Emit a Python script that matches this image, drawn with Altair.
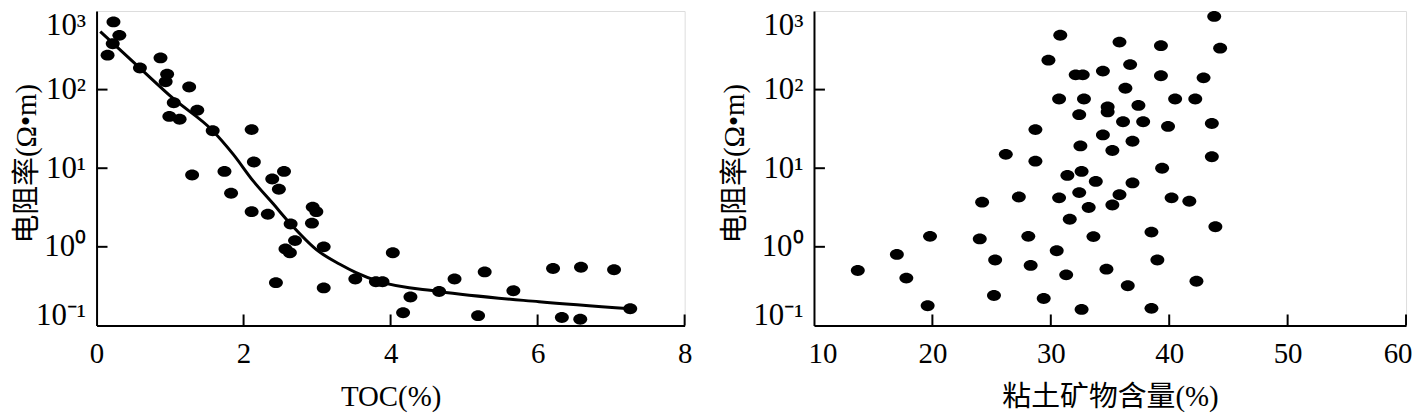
import altair as alt
import pandas as pd

# ---------------- data ----------------
toc = [0.23, 0.31, 0.22, 0.15, 0.59, 0.87, 0.96, 0.94, 1.26, 1.05,
       0.99, 1.13, 1.37, 1.58, 2.11, 2.14, 1.30, 1.74, 1.83, 2.39,
       2.48, 2.55, 2.11, 2.33, 2.64, 2.94, 2.99, 2.93, 2.70, 2.57,
       2.63, 3.09, 2.44, 3.09, 3.52, 3.80, 3.89, 4.03, 4.27, 4.17,
       4.66, 4.87, 5.28, 5.19, 5.67, 6.21, 6.59, 7.04, 6.33, 6.58, 7.26]
res_toc = [726, 490, 383, 274, 188, 253, 157, 126, 108, 68,
           45.6, 42, 54.6, 30, 31, 12, 8.2, 9.1, 4.8, 7.3,
           5.4, 9.1, 2.8, 2.6, 1.95, 3.2, 2.8, 2.0, 1.2, 0.94,
           0.84, 1.0, 0.35, 0.30, 0.39, 0.36, 0.36, 0.84, 0.23, 0.145,
           0.27, 0.39, 0.48, 0.133, 0.276, 0.53, 0.55, 0.51, 0.126, 0.12, 0.163]

curve_toc = [0.05, 0.59, 1.05, 1.58, 1.86, 2.13, 2.40, 2.64, 2.99, 3.31, 3.53, 3.85, 4.66, 6.02, 7.26]
curve_res = [547, 188, 76, 30, 15, 6.9, 3.55, 1.95, 0.92, 0.6, 0.47, 0.36, 0.27, 0.2, 0.163]

clay = [43.8, 30.8, 35.8, 39.3, 44.3, 29.8, 32.1, 32.7, 34.4, 36.7,
        39.3, 42.9, 36.3, 30.7, 32.8, 40.5, 42.2, 34.8, 34.8, 37.4,
        32.4, 36.1, 37.8, 39.9, 43.6, 28.7, 34.4, 32.5, 35.2, 36.9,
        43.6, 26.2, 28.7, 39.4, 31.4, 32.6, 33.8, 36.9, 30.7, 32.4,
        35.8, 40.2, 41.7, 33.2, 35.2, 24.2, 27.3, 31.6, 43.9, 33.6,
        38.5, 30.5, 39.0, 28.3, 31.3, 34.7, 36.5, 42.3, 29.4, 32.6,
        38.5, 13.7, 17.0, 17.8, 19.8, 19.6, 24.0, 25.3, 25.2, 28.1]
res_clay = [854, 492, 402, 362, 337, 237, 154, 154, 172, 208,
            150, 141, 104, 76, 76, 76, 76, 60, 52, 63,
            48, 39, 39, 34, 37, 31, 26.5, 19.2, 16.8, 22,
            14, 15, 12.3, 10, 8.1, 9.1, 6.8, 6.5, 4.2, 4.9,
            4.6, 4.2, 3.8, 3.16, 3.4, 3.7, 4.3, 2.24, 1.8, 1.35,
            1.54, 0.89, 0.68, 0.58, 0.44, 0.52, 0.32, 0.365, 0.22, 0.16,
            0.165, 0.50, 0.80, 0.40, 1.36, 0.178, 1.26, 0.68, 0.24, 1.36]

x_labels_left = [0, 2, 4, 6, 8]
x_ticks_left = [2, 4, 6, 8]
x_labels_right = [10, 20, 30, 40, 50, 60]
x_ticks_right = [20, 30, 40, 50, 60]
y_label_values = [0.1, 1, 10, 100, 1000]
y_label_text = ["10⁻¹", "10⁰", "10¹", "10²", "10³"]
y_ticks = [1, 10, 100]

x_title_left = "TOC(%)"
x_title_right = "粘土矿物含量(%)"
y_title = "电阻率(Ω•m)"

# ---------------- style ----------------
FONT = "Liberation Serif"
CJK = "Liberation Serif, Noto Sans CJK SC"
ELLIPSE = "M-1,0A1,0.78,0,1,1,1,0A1,0.78,0,1,1,-1,0Z"
W1, W2, H = 591, 595, 316
TICK = 11

label_expr = "[" + ",".join("'%s'" % t for t in y_label_text) + "][round(log(datum.value)/LN10)+1]"


def y_axis(title_x):
    return alt.Axis(values=y_label_values, labelExpr=label_expr, ticks=False, tickSize=0,
                    grid=False, domainColor="black", domainWidth=2,
                    labelFont=FONT, labelFontSize=31, labelColor="black", labelPadding=11,
                    labelFlush=False, labelBaseline="middle",
                    labelOffset={"condition": [{"test": "datum.value < 0.5", "value": -10},
                                               {"test": "datum.value > 500", "value": 15}],
                                 "value": 0},
                    title=y_title, titleFont=CJK, titleFontSize=29,
                    titleFontWeight="normal", titleColor="black", titleX=title_x,
                    titleY=H / 2 - 5, titleBaseline="middle")


def x_axis(vals, title, flush):
    kw = dict(values=vals, ticks=False, tickSize=0, grid=False, domainColor="black",
              domainWidth=2, labelFont=FONT, labelFontSize=29, labelColor="black",
              labelPadding=14, labelFlush=flush, title=title, titleFont=CJK,
              titleFontSize=29, titleFontWeight="normal", titleColor="black",
              titleY=71, titleBaseline="middle")
    if flush:
        kw["labelFlushOffset"] = 6
    return alt.Axis(**kw)


yscale = alt.Scale(type="log", domain=[0.1, 1000])


def panel(xs, ys, xdom, xlabels, xticks, xtitle, flush, width, title_x, cx=None, cy=None):
    xscale = alt.Scale(domain=xdom, nice=False, zero=False)
    xa = x_axis(xlabels, xtitle, flush)
    ya = y_axis(title_x)
    pts = pd.DataFrame({"x": xs, "y": ys})
    layers = []
    layers.append(
        alt.Chart(pts).mark_point(shape=ELLIPSE, filled=True, size=196, color="black",
                                  opacity=1, strokeWidth=0).encode(
            x=alt.X("x:Q", scale=xscale, axis=xa),
            y=alt.Y("y:Q", scale=yscale, axis=ya),
        )
    )
    if cx is not None:
        cdf = pd.DataFrame({"x": cx, "y": cy})
        layers.append(
            alt.Chart(cdf).mark_line(color="black", strokeWidth=3, interpolate="monotone").encode(
                x=alt.X("x:Q", scale=xscale, axis=xa),
                y=alt.Y("y:Q", scale=yscale, axis=ya),
            )
        )
    tdf = pd.DataFrame({"x": xticks})
    layers.append(
        alt.Chart(tdf).mark_rule(color="black", strokeWidth=2).encode(
            x=alt.X("x:Q", scale=xscale, axis=xa),
            y=alt.value(H), y2=alt.value(H - TICK),
        )
    )
    ydf = pd.DataFrame({"y": y_ticks})
    layers.append(
        alt.Chart(ydf).mark_rule(color="black", strokeWidth=2).encode(
            y=alt.Y("y:Q", scale=yscale, axis=ya),
            x=alt.value(0), x2=alt.value(TICK),
        )
    )
    return alt.layer(*layers).properties(width=width, height=H)


left = panel(toc, res_toc, [0, 8], x_labels_left, x_ticks_left, x_title_left, False, W1,
             -70, curve_toc, curve_res)
right = panel(clay, res_clay, [10, 60], x_labels_right, x_ticks_right, x_title_right, True, W2,
              -80)

chart = alt.hconcat(left, right, spacing=130, bounds="flush").properties(
    padding={"left": 4, "top": 0, "right": 0, "bottom": 0}
).configure_view(strokeWidth=0).configure(background="white")

chart.save("out.html", embed_options={"renderer": "svg", "actions": False})
